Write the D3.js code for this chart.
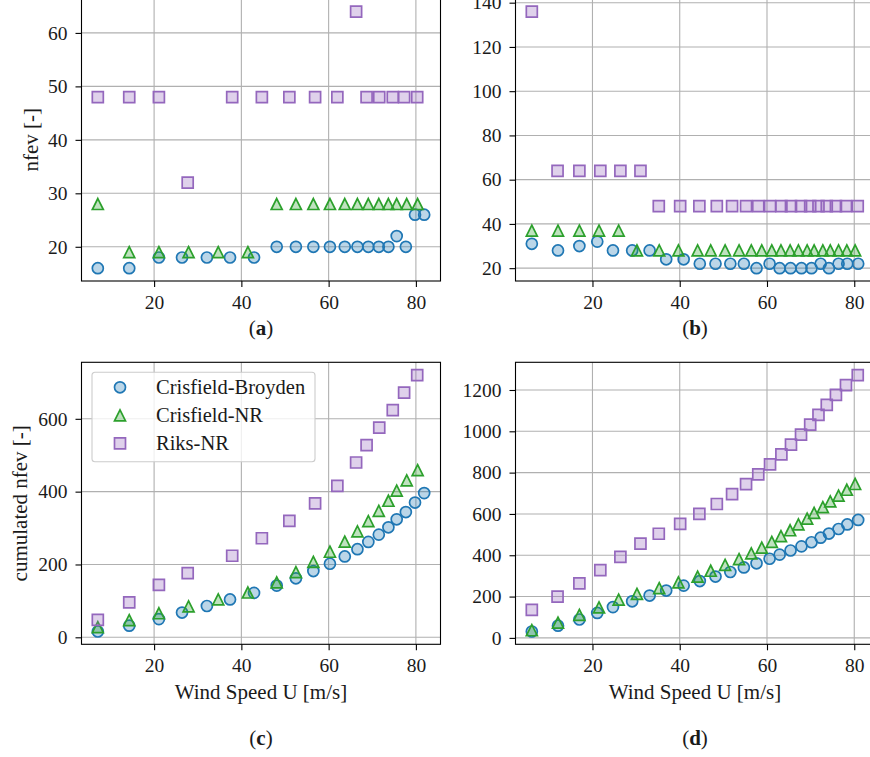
<!DOCTYPE html>
<html>
<head>
<meta charset="utf-8">
<script src="https://cdn.jsdelivr.net/npm/d3@7"></script>
<style>
  html, body { margin: 0; padding: 0; background: #fff; }
  svg { display: block; font-family: "Liberation Serif", serif; }
</style>
</head>
<body>
<svg id="chart" width="870" height="757"></svg>
<script>
// nfev per load step and cumulated nfev, two cases (left / right column)

const seriesNames = ["Crisfield-Broyden", "Crisfield-NR", "Riks-NR"];
const seriesColors = ["#1f77b4", "#2ca02c", "#9467bd"];
const seriesShapes = ["circle", "triangle", "square"];

// left column, panels (a) and (c)
const speedA_cb = [7.1, 14.3, 21.1, 26.4, 32.1, 37.4, 42.9, 48.1, 52.5, 56.5, 60.3, 63.7, 66.6, 69.1, 71.5, 73.7, 75.6, 77.7, 79.8, 81.9];
const nfevA_cb = [16, 16, 18, 18, 18, 18, 18, 20, 20, 20, 20, 20, 20, 20, 20, 20, 22, 20, 26, 26];
const cumA_cb = [16, 32, 50, 68, 86, 104, 122, 142, 162, 182, 202, 222, 242, 262, 282, 302, 324, 344, 370, 396];

const speedA_cnr = [7.1, 14.3, 21.1, 27.9, 34.7, 41.5, 48.1, 52.5, 56.5, 60.3, 63.7, 66.6, 69.1, 71.5, 73.7, 75.6, 77.9, 80.4];
const nfevA_cnr = [28, 19, 19, 19, 19, 19, 28, 28, 28, 28, 28, 28, 28, 28, 28, 28, 28, 28];
const cumA_cnr = [28, 47, 66, 85, 104, 123, 151, 179, 207, 235, 263, 291, 319, 347, 375, 403, 431, 459];

const speedA_riks = [7.1, 14.3, 21.1, 27.7, 37.9, 44.7, 51.0, 56.9, 62.0, 66.3, 68.7, 71.6, 74.7, 77.3, 80.3];
const nfevA_riks = [48, 48, 48, 32, 48, 48, 48, 48, 48, 64, 48, 48, 48, 48, 48];
const cumA_riks = [48, 96, 144, 176, 224, 272, 320, 368, 416, 480, 528, 576, 624, 672, 720];

// right column, panels (b) and (d)
const speedB_cb = [6.1, 12.1, 17.0, 21.1, 24.7, 29.1, 33.1, 36.9, 40.9, 44.6, 48.2, 51.6, 54.7, 57.6, 60.6, 62.9, 65.4, 67.9, 70.2, 72.3, 74.2, 76.4, 78.4, 80.9];
const nfevB_cb = [31, 28, 30, 32, 28, 28, 28, 24, 24, 22, 22, 22, 22, 20, 22, 20, 20, 20, 20, 22, 20, 22, 22, 22];
const cumB_cb = [31, 59, 89, 121, 149, 177, 205, 229, 253, 275, 297, 319, 341, 361, 383, 403, 423, 443, 463, 485, 505, 527, 549, 571];

const speedB_cnr = [6.1, 12.1, 17.0, 21.5, 26.0, 30.2, 35.3, 39.7, 44.1, 47.1, 50.4, 53.6, 56.4, 58.8, 61.1, 63.2, 65.3, 67.2, 69.2, 70.8, 72.8, 74.5, 76.4, 78.3, 80.2];
const nfevB_cnr = [37, 37, 37, 37, 37, 28, 28, 28, 28, 28, 28, 28, 28, 28, 28, 28, 28, 28, 28, 28, 28, 28, 28, 28, 28];
const cumB_cnr = [37, 74, 111, 148, 185, 213, 241, 269, 297, 325, 353, 381, 409, 437, 465, 493, 521, 549, 577, 605, 633, 661, 689, 717, 745];

const speedB_riks = [6.1, 12.0, 17.0, 21.8, 26.4, 31.0, 35.2, 40.1, 44.5, 48.5, 52.0, 55.2, 58.0, 60.7, 63.3, 65.5, 67.8, 69.9, 71.8, 73.7, 75.8, 78.1, 80.8];
const nfevB_riks = [136, 64, 64, 64, 64, 64, 48, 48, 48, 48, 48, 48, 48, 48, 48, 48, 48, 48, 48, 48, 48, 48, 48];
const cumB_riks = [136, 200, 264, 328, 392, 456, 504, 552, 600, 648, 696, 744, 792, 840, 888, 936, 984, 1032, 1080, 1128, 1176, 1224, 1272];

// ticks
const xTicks = [20, 40, 60, 80];
const yTicksA = [20, 30, 40, 50, 60];
const yTicksB = [20, 40, 60, 80, 100, 120, 140];
const yTicksC = [0, 200, 400, 600];
const yTicksD = [0, 200, 400, 600, 800, 1000, 1200];

const svg = d3.select("#chart");
const FONT = 19.5;     // tick labels
const FONT_LAB = 21;   // axis labels, panel tags
const FONT_LEG = 20.5; // legend
const MS = 11; // marker size (px)

// matplotlib style autoscale: 5% margin
function padded(arrays) {
    const all = d3.merge(arrays);
    const [lo, hi] = d3.extent(all);
    const m = (hi - lo) * 0.05;
    return [lo - m, hi + m];
}

const symCircle = d3.symbol().type(d3.symbolCircle).size(Math.PI * (MS / 2) ** 2);
function markerPath(shape) {
    const h = MS / 2;
    if (shape === "circle") return symCircle();
    if (shape === "triangle") return `M0,${-h}L${h},${h}L${-h},${h}Z`;
    return `M${-h},${-h}H${h}V${h}H${-h}Z`;
}

function drawPanel(p) {
    const x = d3.scaleLinear().domain(padded(p.xs)).range([p.left, p.right]);
    const y = d3.scaleLinear().domain(padded(p.ys)).range([p.bottom, p.top]);
    const g = svg.append("g");

    // gridlines
    g.append("g").selectAll("line").data(xTicks).join("line")
        .attr("x1", d => x(d)).attr("x2", d => x(d))
        .attr("y1", p.top).attr("y2", p.bottom)
        .attr("stroke", "#b0b0b0").attr("stroke-width", 1.1);
    g.append("g").selectAll("line").data(p.yTicks).join("line")
        .attr("x1", p.left).attr("x2", p.right)
        .attr("y1", d => y(d)).attr("y2", d => y(d))
        .attr("stroke", "#b0b0b0").attr("stroke-width", 1.1);

    // markers
    p.xs.forEach((xs, i) => {
        g.append("g").selectAll("path").data(xs.map((v, j) => [v, p.ys[i][j]])).join("path")
            .attr("transform", d => `translate(${x(d[0])},${y(d[1])})`)
            .attr("d", markerPath(seriesShapes[i]))
            .attr("fill", seriesColors[i]).attr("fill-opacity", 0.3)
            .attr("stroke", seriesColors[i]).attr("stroke-width", 1.7);
    });

    // axes
    const ax = g.append("g").attr("transform", `translate(0,${p.bottom})`)
        .call(d3.axisBottom(x).tickValues(xTicks).tickFormat(d3.format("d")).tickSize(6).tickPadding(8).tickSizeOuter(0));
    const ay = g.append("g").attr("transform", `translate(${p.left},0)`)
        .call(d3.axisLeft(y).tickValues(p.yTicks).tickFormat(d3.format("d")).tickSize(6).tickPadding(8).tickSizeOuter(0));
    [ax, ay].forEach(a => {
        a.select(".domain").remove();
        a.selectAll("line").attr("stroke", "#000").attr("stroke-width", 1.1);
        a.selectAll("text").attr("fill", "#1a1a1a").style("font-size", FONT + "px").style("font-family", '"Liberation Serif", serif');
    });

    // frame
    g.append("rect")
        .attr("x", p.left).attr("y", p.top)
        .attr("width", p.right - p.left).attr("height", p.bottom - p.top)
        .attr("fill", "none").attr("stroke", "#000").attr("stroke-width", 1.1);

    const cx = (p.left + p.right) / 2;
    if (p.xLabel) {
        g.append("text").attr("x", cx).attr("y", p.bottom + 48)
            .attr("text-anchor", "middle").attr("dominant-baseline", "central")
            .style("font-size", FONT_LAB + "px").attr("fill", "#1a1a1a").text(p.xLabel);
    }
    if (p.yLabel) {
        g.append("text")
            .attr("transform", `translate(${p.yLabelX},${(p.top + p.bottom) / 2}) rotate(-90)`)
            .attr("text-anchor", "middle").attr("dominant-baseline", "central")
            .style("font-size", FONT_LAB + "px").attr("fill", "#1a1a1a").text(p.yLabel);
    }
    const tag = g.append("text").attr("x", cx).attr("y", p.tagY)
        .attr("text-anchor", "middle").attr("dominant-baseline", "central")
        .style("font-size", FONT_LAB + "px").attr("fill", "#1a1a1a");
    tag.append("tspan").text("(");
    tag.append("tspan").attr("font-weight", "bold").text(p.tag);
    tag.append("tspan").text(")");
    return { x, y, g };
}

const L1 = 81.5, R1 = 440.5, L2 = 515.5, R2 = 874.5;
const T1 = -1.3, B1 = 281, T2 = 362.3, B2 = 644.3;

drawPanel({ left: L1, right: R1, top: T1, bottom: B1,
    xs: [speedA_cb, speedA_cnr, speedA_riks], ys: [nfevA_cb, nfevA_cnr, nfevA_riks],
    yTicks: yTicksA, yLabel: "nfev [-]", yLabelX: 31, tag: "a", tagY: 328 });
drawPanel({ left: L2, right: R2, top: T1, bottom: B1,
    xs: [speedB_cb, speedB_cnr, speedB_riks], ys: [nfevB_cb, nfevB_cnr, nfevB_riks],
    yTicks: yTicksB, tag: "b", tagY: 328 });
const pc = drawPanel({ left: L1, right: R1, top: T2, bottom: B2,
    xs: [speedA_cb, speedA_cnr, speedA_riks], ys: [cumA_cb, cumA_cnr, cumA_riks],
    yTicks: yTicksC, yLabel: "cumulated nfev [-]", yLabelX: 20,
    xLabel: "Wind Speed U [m/s]", tag: "c", tagY: 738 });
drawPanel({ left: L2, right: R2, top: T2, bottom: B2,
    xs: [speedB_cb, speedB_cnr, speedB_riks], ys: [cumB_cb, cumB_cnr, cumB_riks],
    yTicks: yTicksD, xLabel: "Wind Speed U [m/s]", tag: "d", tagY: 738 });

// legend in panel (c)
const leg = pc.g.append("g").attr("transform", "translate(92,372.3)");
leg.append("rect").attr("width", 223).attr("height", 89.5).attr("rx", 3)
    .attr("fill", "#fff").attr("fill-opacity", 0.8)
    .attr("stroke", "#cccccc").attr("stroke-width", 1.1);
seriesNames.forEach((name, i) => {
    const row = leg.append("g").attr("transform", `translate(0,${15 + i * 28})`);
    row.append("path").attr("transform", "translate(28,0)")
        .attr("d", markerPath(seriesShapes[i]))
        .attr("fill", seriesColors[i]).attr("fill-opacity", 0.3)
        .attr("stroke", seriesColors[i]).attr("stroke-width", 1.7);
    row.append("text").attr("x", 64).attr("dominant-baseline", "central")
        .style("font-size", FONT_LEG + "px").attr("fill", "#1a1a1a").text(name);
});
</script>
</body>
</html>
